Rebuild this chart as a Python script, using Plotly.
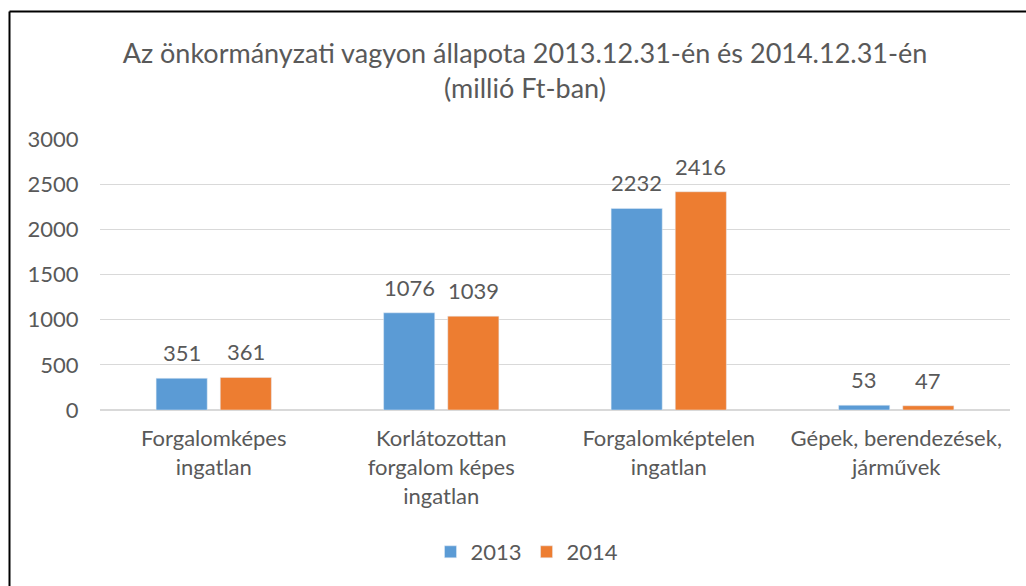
import plotly.graph_objects as go

categories = [
    "Forgalomképes<br>ingatlan",
    "Korlátozottan<br>forgalom képes<br>ingatlan",
    "Forgalomképtelen<br>ingatlan",
    "Gépek, berendezések,<br>járművek",
]
values_2013 = [351, 1076, 2232, 53]
values_2014 = [361, 1039, 2416, 47]
y_ticks = [0, 500, 1000, 1500, 2000, 2500, 3000]

W, H = 1026, 586
L, R, T, B = 100, 16, 139, 176
plot_w, plot_h = W - L - R, H - T - B

FONT = "Lato"
GREY = "#595959"
BLUE = "#5B9BD5"
ORANGE = "#ED7D31"
FS = 22

fig = go.Figure()
fig.add_trace(go.Bar(x=categories, y=values_2013, name="2013", marker_color=BLUE))
fig.add_trace(go.Bar(x=categories, y=values_2014, name="2014", marker_color=ORANGE))

# value labels above each bar
annotations = []
for vals, shift in ((values_2013, -32), (values_2014, 32)):
    for cat, v in zip(categories, vals):
        annotations.append(dict(
            x=cat, y=v, xref="x", yref="y", text=str(v), showarrow=False,
            xshift=shift, yshift=10, yanchor="bottom",
            font=dict(family=FONT, size=FS, color=GREY),
        ))


def px_to_paper_x(px):
    return (px - L) / plot_w


def px_to_paper_y(py):
    return (H - B - py) / plot_h


fig.update_layout(
    width=W, height=H,
    margin=dict(l=L, r=R, t=T, b=B),
    paper_bgcolor="white", plot_bgcolor="white",
    barmode="group", bargap=0.436, bargroupgap=0.203,
    font=dict(family=FONT, color=GREY),
    title=dict(
        text="Az önkormányzati vagyon állapota 2013.12.31-én és 2014.12.31-én<br>(millió Ft-ban)",
        x=525 / W, xref="container", xanchor="center",
        y=1 - 63 / H, yref="container", yanchor="middle",
        font=dict(family=FONT, size=27, color=GREY),
    ),
    xaxis=dict(
        showgrid=False, showline=False, ticks="outside", ticklen=9,
        tickcolor="rgba(0,0,0,0)",
        tickfont=dict(family=FONT, size=FS, color=GREY),
    ),
    yaxis=dict(
        range=[0, 3000], tickvals=y_ticks, showgrid=True, gridcolor="#D9D9D9",
        zeroline=True, zerolinecolor="#D9D9D9", showline=False,
        ticks="outside", ticklen=16, tickcolor="rgba(0,0,0,0)",
        tickfont=dict(family=FONT, size=FS, color=GREY),
    ),
    legend=dict(
        orientation="h", x=px_to_paper_x(527), xanchor="center",
        y=px_to_paper_y(552), yanchor="middle",
        font=dict(family=FONT, size=FS, color=GREY),
    ),
    annotations=annotations,
    shapes=[
        # chart frame: left and top edges
        dict(type="line", xref="paper", yref="paper",
             x0=px_to_paper_x(9.5), x1=px_to_paper_x(9.5),
             y0=px_to_paper_y(11.5), y1=px_to_paper_y(600),
             line=dict(color="black", width=2)),
        dict(type="line", xref="paper", yref="paper",
             x0=px_to_paper_x(9.5), x1=px_to_paper_x(1040),
             y0=px_to_paper_y(11.5), y1=px_to_paper_y(11.5),
             line=dict(color="black", width=2)),
    ],
)

fig.write_html("out.html")
